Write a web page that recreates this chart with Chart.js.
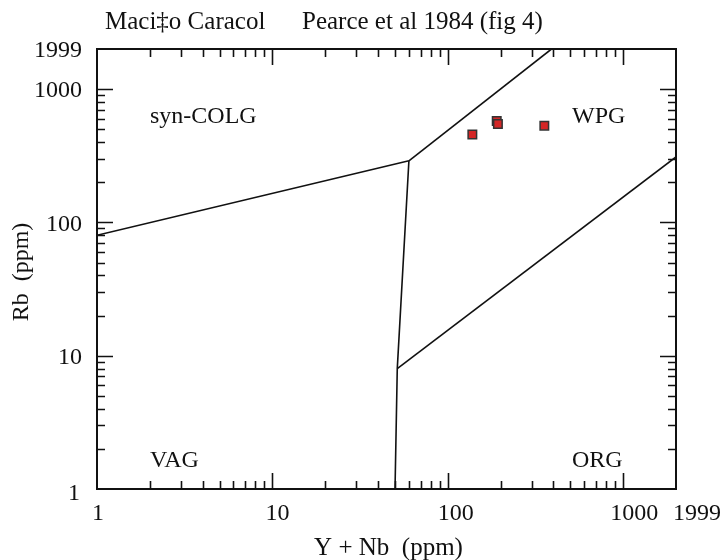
<!DOCTYPE html>
<html><head><meta charset="utf-8">
<script src="https://cdn.jsdelivr.net/npm/chart.js@4.4.1/dist/chart.umd.min.js"></script>
<style>html,body{margin:0;padding:0;background:#fff}#wrap{width:721px;height:560px}</style>
</head><body><div id="wrap"><canvas id="c" width="721" height="560"></canvas></div>
<script>
const titleLeft = 'Maci\u2021o Caracol';
const titleRight = 'Pearce et al 1984 (fig 4)';
const xAxisTitle = 'Y + Nb  (ppm)';
const yAxisTitle = 'Rb  (ppm)';
const xTickValues = [1, 10, 100, 1000, 1999];
const yTickValues = [1, 10, 100, 1000, 1999];
const axisMin = 1;
const axisMax = 1999;
const sampleX = [138, 190, 193, 355];
const sampleY = [456, 577, 547, 532];
const colgVagX = [1, 60];
const colgVagY = [80, 290];
const colgWpgX = [60, 390];
const colgWpgY = [290, 1999];
const vagWpgX = [60, 51.5, 50];
const vagWpgY = [290, 8, 1];
const orgWpgX = [51.5, 1999];
const orgWpgY = [8, 310];
const fieldNames = ['syn-COLG', 'WPG', 'VAG', 'ORG'];

const pts = (xs, ys) => xs.map((x, i) => ({x, y: ys[i]}));
const lineDs = (xs, ys) => ({data: pts(xs, ys), showLine: true, borderColor: '#111', borderWidth: 1.6, pointRadius: 0, fill: false, tension: 0, order: 2});

const FAMILY = '"Liberation Serif", "Times New Roman", serif';

const decor = {
  id: 'decor',
  afterDatasetsDraw(chart) {
    const ctx = chart.ctx, a = chart.chartArea, xs = chart.scales.x, ys = chart.scales.y;
    ctx.save();
    ctx.strokeStyle = '#111';
    ctx.lineWidth = 1.6;
    const minors = [];
    for (let d = 1; d <= 1000; d *= 10) for (let m = 2; m <= 9; m++) { const v = m * d; if (v < axisMax) minors.push(v); }
    const majors = [10, 100, 1000];
    const tick = (v, len) => {
      const px = Math.round(xs.getPixelForValue(v)) + 0.5;
      const py = Math.round(ys.getPixelForValue(v)) + 0.5;
      ctx.beginPath();
      ctx.moveTo(px, a.bottom); ctx.lineTo(px, a.bottom - len);
      ctx.moveTo(px, a.top); ctx.lineTo(px, a.top + len);
      ctx.moveTo(a.left, py); ctx.lineTo(a.left + len, py);
      ctx.moveTo(a.right, py); ctx.lineTo(a.right - len, py);
      ctx.stroke();
    };
    minors.forEach(v => tick(v, 8));
    majors.forEach(v => tick(v, 16));
    ctx.lineWidth = 2;
    ctx.strokeRect(a.left, a.top, a.right - a.left, a.bottom - a.top);

    ctx.fillStyle = '#111';
    ctx.font = '24px ' + FAMILY;
    // y tick labels
    ctx.textAlign = 'right'; ctx.textBaseline = 'middle';
    yTickValues.forEach(v => {
      let py = ys.getPixelForValue(v) + 2;
      let px = a.left - 15;
      if (v === axisMin) { py += 3; px -= 2; }
      ctx.fillText(String(v), px, py);
    });
    // x tick labels
    ctx.textBaseline = 'middle';
    xTickValues.forEach((v, i) => {
      const px = xs.getPixelForValue(v);
      if (v === axisMax) { ctx.textAlign = 'left'; ctx.fillText(String(v), px - 3, a.bottom + 25); }
      else { ctx.textAlign = 'center'; ctx.fillText(String(v), px + [1, 5, 8, 11][i], a.bottom + 25); }
    });
    // field labels
    ctx.textAlign = 'left';
    ctx.fillText(fieldNames[0], 150, 117);
    ctx.fillText(fieldNames[1], 572, 117);
    ctx.fillText(fieldNames[2], 150, 461);
    ctx.fillText(fieldNames[3], 572, 461);
    // y axis title
    ctx.save();
    ctx.textAlign = 'center';
    ctx.translate(22, (a.top + a.bottom) / 2 + 3);
    ctx.rotate(-Math.PI / 2);
    ctx.fillText(yAxisTitle, 0, 0);
    ctx.restore();
    // x axis title and chart title
    ctx.font = '25px ' + FAMILY;
    ctx.textAlign = 'center';
    ctx.fillText(xAxisTitle, (a.left + a.right) / 2 + 2, 548);
    ctx.textAlign = 'left';
    ctx.fillText(titleLeft, 105, 22);
    ctx.fillText(titleRight, 302, 22);
    ctx.restore();
  }
};

new Chart(document.getElementById('c'), {
  type: 'scatter',
  data: {
    datasets: [
      lineDs(colgVagX, colgVagY),
      lineDs(colgWpgX, colgWpgY),
      lineDs(vagWpgX, vagWpgY),
      lineDs(orgWpgX, orgWpgY),
      {data: pts(sampleX, sampleY), pointStyle: 'rect', pointRadius: 6, backgroundColor: '#d42626', borderColor: '#333', borderWidth: 1.5, showLine: false, order: 1}
    ]
  },
  options: {
    responsive: false, animation: false, devicePixelRatio: 1,
    layout: {padding: {left: 97, right: 45, top: 49, bottom: 71}},
    plugins: {legend: {display: false}, tooltip: {enabled: false}, title: {display: false}},
    scales: {
      x: {type: 'logarithmic', min: axisMin, max: axisMax, display: false},
      y: {type: 'logarithmic', min: axisMin, max: axisMax, display: false}
    }
  },
  plugins: [decor]
});
</script></body></html>
